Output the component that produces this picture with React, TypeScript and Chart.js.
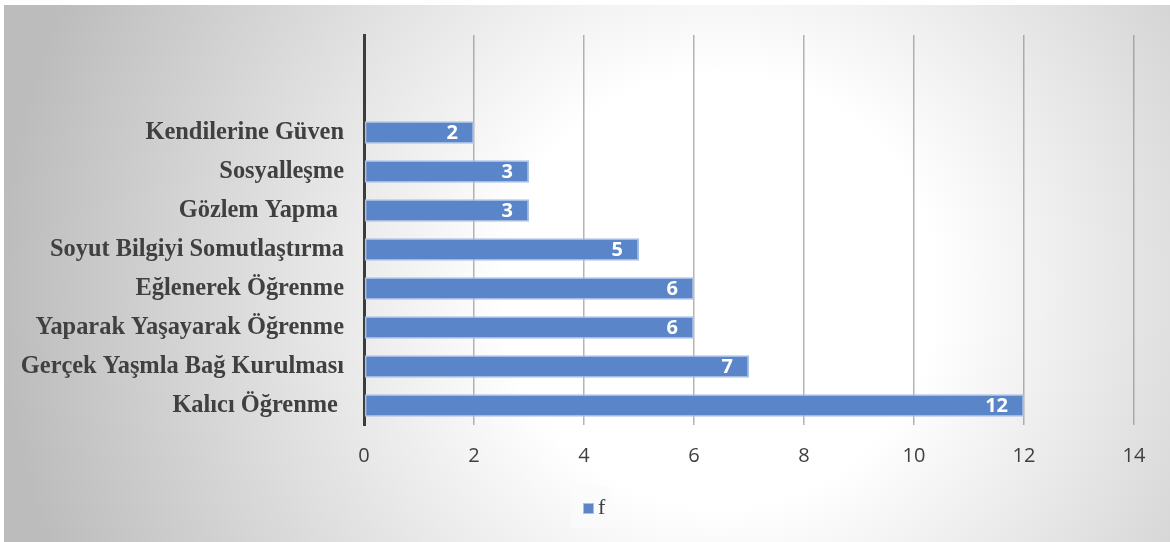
import React, { useEffect, useRef } from "react";
import { Chart, registerables } from "chart.js";

Chart.register(...registerables);

const categories = [
  "",
  "",
  "Kendilerine Güven",
  "Sosyalleşme",
  "Gözlem Yapma ",
  "Soyut Bilgiyi Somutlaştırma",
  "Eğlenerek Öğrenme",
  "Yaparak Yaşayarak Öğrenme",
  "Gerçek Yaşmla Bağ Kurulması",
  "Kalıcı Öğrenme ",
];
const values: (number | null)[] = [null, null, 2, 3, 3, 5, 6, 6, 7, 12];
const seriesName = "f";
const xTicks = [0, 2, 4, 6, 8, 10, 12, 14];

const W = 1170;
const H = 542;
const BAR_COLOR = "#5a86c9";
const BAR_BORDER = "#a8c0e6";

const backgroundPlugin = {
  id: "bgPlugin",
  beforeDraw(chart: any) {
    const ctx = chart.ctx;
    ctx.save();
    ctx.fillStyle = "#ffffff";
    ctx.fillRect(0, 0, W, H);
    const g = ctx.createRadialGradient(720, 290, 0, 720, 290, 720);
    g.addColorStop(0, "#ffffff");
    g.addColorStop(0.3, "#ffffff");
    g.addColorStop(1, "#bcbcbc");
    ctx.fillStyle = g;
    ctx.fillRect(4, 5, W - 4, H - 5);
    ctx.restore();
  },
};

const legendPlugin = {
  id: "customLegend",
  afterDraw(chart: any) {
    const ctx = chart.ctx;
    const ds = chart.data.datasets[0];
    const cx = (chart.chartArea.left + chart.chartArea.right) / 2;
    const cy = 508;
    ctx.save();
    ctx.fillStyle = "rgba(250,250,250,0.85)";
    ctx.fillRect(cx - 178, cy - 22, 38, 42);
    ctx.fillStyle = BAR_COLOR;
    ctx.fillRect(cx - 166, cy - 5, 11, 11);
    ctx.strokeStyle = BAR_BORDER;
    ctx.lineWidth = 1;
    ctx.strokeRect(cx - 166 + 0.5, cy - 5 + 0.5, 10, 10);
    ctx.fillStyle = "#404040";
    ctx.font = "22px 'Liberation Serif'";
    ctx.textAlign = "left";
    ctx.textBaseline = "middle";
    ctx.fillText(ds.label, cx - 151, cy);
    ctx.restore();
  },
};

const labelPlugin = {
  id: "valueLabels",
  afterDatasetsDraw(chart: any) {
    const ctx = chart.ctx;
    const meta = chart.getDatasetMeta(0);
    ctx.save();
    ctx.fillStyle = "#ffffff";
    ctx.font = "bold 20px 'Open Sans'";
    ctx.textAlign = "right";
    ctx.textBaseline = "middle";
    meta.data.forEach((bar: any, i: number) => {
      const v = values[i];
      if (v == null) return;
      ctx.fillText(String(v), bar.x - 16, bar.y + 1);
    });
    ctx.restore();
  },
};

export default function App() {
  const ref = useRef<HTMLCanvasElement | null>(null);
  useEffect(() => {
    if (!ref.current) return;
    const chart = new Chart(ref.current, {
      type: "bar",
      data: {
        labels: categories,
        datasets: [
          {
            label: seriesName,
            data: values as any,
            backgroundColor: BAR_COLOR,
            borderColor: BAR_BORDER,
            borderWidth: 1.5,
            borderSkipped: false,
            barPercentage: 0.58,
            categoryPercentage: 1,
          },
        ],
      },
      options: {
        indexAxis: "y",
        animation: false,
        responsive: false,
        layout: { padding: { left: 0, right: 36, top: 35, bottom: 0 } },
        plugins: {
          tooltip: { enabled: false },
          legend: { display: false },
        },
        scales: {
          x: {
            type: "linear",
            min: 0,
            max: 14,
            z: 1,
            afterBuildTicks: (scale: any) => {
              scale.ticks = xTicks.map((v) => ({ value: v }));
            },
            afterFit: (scale: any) => {
              scale.height = H - 425;
            },
            grid: {
              color: "rgba(130,130,130,0.6)",
              lineWidth: 1.5,
              drawTicks: false,
            },
            border: { display: false },
            ticks: {
              padding: 19,
              color: "#404040",
              font: { family: "'Open Sans'", size: 20 },
            },
          },
          y: {
            z: 1,
            afterFit: (scale: any) => {
              scale.width = 364;
            },
            grid: { display: false, drawTicks: false },
            border: { display: true, color: "#3c3c3c", width: 3 },
            ticks: {
              padding: 20,
              color: "#404040",
              autoSkip: false,
              font: { family: "'Liberation Serif'", size: 24.4, weight: "bold" },
            },
          },
        },
      },
      plugins: [backgroundPlugin, labelPlugin, legendPlugin],
    } as any);
    return () => chart.destroy();
  }, []);
  return (
    <div style={{ position: "absolute", left: 0, top: 0, width: W, height: H }}>
      <canvas ref={ref} width={W} height={H} style={{ width: W, height: H, display: "block" }} />
    </div>
  );
}
